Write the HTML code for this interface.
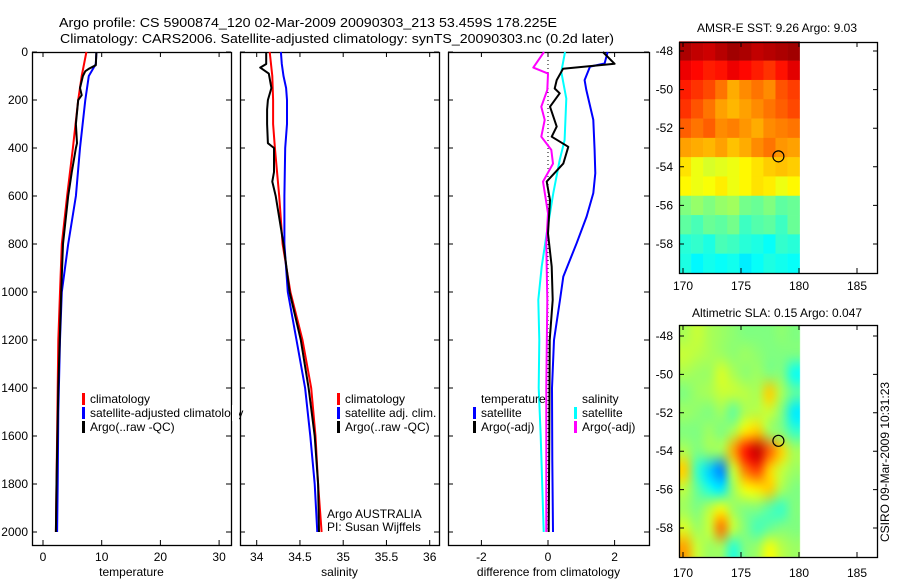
<!DOCTYPE html>
<html><head><meta charset="utf-8"><style>
html,body{margin:0;padding:0;background:#fff;}
#wrap{position:relative;width:900px;height:580px;overflow:hidden;}
#sla{position:absolute;left:0;top:0;}
svg{position:absolute;left:0;top:0;}
text{font-family:"Liberation Sans",sans-serif;font-size:12px;fill:#000;}
</style></head><body>
<div id="wrap">
<canvas id="sla" width="900" height="580"></canvas>
<svg id="fig" width="900" height="580" xmlns="http://www.w3.org/2000/svg">
<text x="308" y="27" text-anchor="middle" textLength="498" lengthAdjust="spacingAndGlyphs" style="font-size:13px">Argo profile: CS 5900874_120 02-Mar-2009 20090303_213 53.459S 178.225E</text>
<text x="337" y="43" text-anchor="middle" textLength="554" lengthAdjust="spacingAndGlyphs" style="font-size:13px">Climatology: CARS2006. Satellite-adjusted climatology: synTS_20090303.nc (0.2d later)</text>
<text x="777" y="32" text-anchor="middle">AMSR-E SST: 9.26  Argo: 9.03</text>
<text x="777" y="317" text-anchor="middle">Altimetric SLA: 0.15  Argo: 0.047</text>
<text transform="translate(889,462) rotate(-90)" text-anchor="middle">CSIRO 09-Mar-2009 10:31:23</text>
<g id="g"></g>
</svg></div>
<script>
// ---------- data ----------
const depthTicks=[0,200,400,600,800,1000,1200,1400,1600,1800,2000];
const tempTicks=[0,10,20,30];
const salTicks=[34,34.5,35,35.5,36];
const salTickLabels=["34","34.5","35","35.5","36"];
const diffTicks=[-2,0,2];
const lonTicks=[170,175,180,185];
const latTicks=[-48,-50,-52,-54,-56,-58];

const tClimD=[0,100,200,400,600,800,1000,1200,1400,1600,1800,2000];
const tClimV=[7.4,6.6,6.0,5.1,4.1,3.2,2.9,2.6,2.5,2.4,2.3,2.2];
const tSatD=[0,50,100,200,400,600,800,1000,1200,1500,1800,2000];
const tSatV=[9.1,9.0,7.8,7.2,6.3,5.6,4.3,3.2,2.9,2.6,2.5,2.4];
const tArgoD=[0,55,70,80,100,150,180,200,300,380,400,500,600,800,1000,1400,1800,2000];
const tArgoV=[9.1,9.0,7.8,7.2,6.8,6.3,6.6,6.0,5.6,5.8,5.6,4.9,4.3,3.4,3.1,2.6,2.3,2.2];

const sClimD=[0,100,200,300,400,600,800,1000,1200,1400,1600,1800,2000];
const sClimV=[34.15,34.18,34.19,34.19,34.21,34.26,34.30,34.39,34.53,34.63,34.68,34.71,34.75];
const sSatD=[0,50,100,150,200,300,400,600,800,1000,1200,1400,1600,1800,2000];
const sSatV=[34.28,34.29,34.31,34.34,34.35,34.35,34.33,34.32,34.32,34.36,34.46,34.56,34.62,34.67,34.70];
const sArgoD=[0,50,65,90,150,200,240,300,380,400,500,540,600,800,1000,1200,1400,1600,1800,2000];
const sArgoV=[34.11,34.11,34.04,34.14,34.17,34.13,34.12,34.12,34.13,34.20,34.20,34.18,34.22,34.31,34.38,34.51,34.60,34.67,34.71,34.72];

const dTSatD=[0,48,61,117,158,283,408,505,588,686,797,936,1033,1200,1400,1700,2000];
const dTSatV=[1.79,1.70,1.26,1.10,1.15,1.36,1.40,1.42,1.36,1.16,0.86,0.46,0.36,0.18,0.12,0.13,0.15];
const dTArgoD=[0,49,70,117,152,172,228,311,353,395,465,540,617,756,894,1033,1200,1600,2000];
const dTArgoV=[1.65,2.0,0.45,0.26,0.20,0.35,0.06,0.26,0.11,0.61,0.46,-0.04,0.06,0.0,0.11,0.14,0.05,0.04,0.02];
const dSSatD=[0,83,194,367,450,588,756,894,1033,1200,1400,1600,2000];
const dSSatV=[0.51,0.40,0.55,0.50,0.35,0.16,-0.04,-0.19,-0.29,-0.26,-0.28,-0.22,-0.13];
const dSArgoD=[0,65,90,158,228,283,353,408,465,540,672,800,1033,1400,2000];
const dSArgoV=[-0.12,-0.44,0.0,-0.02,-0.20,-0.10,-0.20,0.10,0.15,-0.15,0.0,-0.05,-0.02,-0.05,-0.05];

const sstGrid=[
[11.8,11.6,11.5,11.7,11.9,11.8,11.6,11.7,11.8,11.9],
[11.2,11.0,10.8,10.9,11.2,11.0,10.8,10.6,10.9,11.3],
[10.8,10.6,10.4,10.0,9.5,9.8,10.0,9.8,10.3,10.5],
[10.6,10.3,10.0,9.6,9.4,9.6,9.8,10.0,10.2,10.4],
[10.2,10.0,10.2,9.8,9.9,9.7,9.5,9.8,9.9,10.0],
[9.6,9.5,9.4,9.6,9.3,9.5,9.8,10.0,9.7,9.6],
[9.0,8.6,8.4,8.5,8.6,8.8,9.0,9.2,9.3,9.2],
[8.8,8.6,8.7,8.9,8.6,8.8,9.0,8.9,8.6,8.8],
[7.6,7.8,7.6,7.8,7.9,7.5,7.4,7.6,7.3,7.4],
[7.3,7.1,7.4,7.3,7.5,7.0,7.2,7.3,7.0,7.4],
[6.8,6.9,6.7,7.1,7.0,6.8,6.7,6.5,6.9,6.8],
[6.7,6.4,6.6,6.5,6.6,6.3,6.5,6.7,6.6,6.5]];
const slaGrid=[
[.03,.05,.03,.02,.01,.0,.0,.0,.01,.0],
[.05,.04,.03,.02,.01,.02,.01,.0,.0,.0],
[.03,.02,.02,.06,.03,.01,.02,.0,.0,-.08],
[.0,.02,.03,.05,.05,.04,.03,.12,.03,-.02],
[.02,.01,.0,.02,-.02,.03,.04,.05,.0,-.1],
[.0,.0,.02,.0,.03,.10,.12,.02,.0,-.05],
[.03,.0,.02,.03,.15,.25,.30,.20,.12,.03],
[.12,-.05,-.12,-.17,.05,.18,.22,.12,.05,.02],
[.04,-.02,-.07,-.10,.02,.08,.10,.12,.03,.0],
[.02,.0,.04,.08,.02,.0,.0,-.03,-.05,.0],
[.06,.02,.05,.18,.05,.0,-.04,-.02,.0,.0],
[.15,.05,.02,.02,-.06,.0,.02,.08,.04,.02]];
const argoLon=178.225, argoLat=-53.459;

// ---------- helpers ----------
const NS="http://www.w3.org/2000/svg";
const G=document.getElementById('g');
function mk(tag,at,parent){const e=document.createElementNS(NS,tag);for(const k in at)e.setAttribute(k,at[k]);(parent||G).appendChild(e);return e;}
const yD=d=>52+d*0.24;
function jet(f){f=Math.max(0,Math.min(1,f));
 const r=Math.max(0,Math.min(1,1.5-Math.abs(4*f-3))),g=Math.max(0,Math.min(1,1.5-Math.abs(4*f-2))),b=Math.max(0,Math.min(1,1.5-Math.abs(4*f-1)));
 return [Math.round(r*255),Math.round(g*255),Math.round(b*255)];}

function panel(name,x0,x1,xScale,xt,xtl,xlabel){
 const top=52,bot=545;
 const fr=mk('rect',{x:x0+0.5,y:top+0.5,width:x1-x0,height:bot-top,fill:'none',stroke:'#000','stroke-width':1.3});
 
 
 xt.forEach((v,i)=>{const x=xScale(v);
  const t=mk('path',{d:`M${x},${bot}v-5M${x},${top}v5`,stroke:'#000','stroke-width':1});
  
  
  const l=mk('text',{x:x,y:561,'text-anchor':'middle'});l.textContent=xtl[i];
  
  });
 depthTicks.forEach(d=>{const y=yD(d);
  const t=mk('path',{d:`M${x0},${y}h5M${x1},${y}h-5`,stroke:'#000','stroke-width':1});
  
  });
 const xl=mk('text',{x:(x0+x1)/2,y:576,'text-anchor':'middle'});xl.textContent=xlabel;
 
 
}
function line(name,D,V,xScale,color,w){
 const pts=D.map((d,i)=>xScale(V[i]).toFixed(1)+','+yD(d).toFixed(1)).join(' ');
 const p=mk('polyline',{points:pts,fill:'none',stroke:color,'stroke-width':w||2,'stroke-linejoin':'round'});
 
 
}
function legend(name,x,y,color,label){
 const m=mk('rect',{x:x,y:y-10,width:3,height:12,fill:color});
 
 
 const t=mk('text',{x:x+8,y:y});t.textContent=label;
 
 
}
function txt(name,x,y,s,anchor){const t=mk('text',{x:x,y:y,'text-anchor':anchor||'start'});t.textContent=s;
 
 }

// depth labels
depthTicks.forEach(d=>{const t=mk('text',{x:28,y:yD(d)+4,'text-anchor':'end'});t.textContent=String(d);
 
 });

// panel 1 temperature
const xT=v=>43+v*5.87;
panel('temperature-panel',32,231,xT,tempTicks,tempTicks.map(String),'temperature');
line('temp-climatology-line',tClimD,tClimV,xT,'#f00');
line('temp-satellite-line',tSatD,tSatV,xT,'#00f');
line('temp-argo-line',tArgoD,tArgoV,xT,'#000');
legend('legend-climatology',82,403,'#f00','climatology');
legend('legend-satellite-adjusted',82,417,'#00f','satellite-adjusted climatology');
legend('legend-argo',82,431,'#000','Argo(..raw -QC)');

// panel 2 salinity
const xS=v=>256.7+(v-34)*86.5;
panel('salinity-panel',240,439,xS,salTicks,salTickLabels,'salinity');
line('sal-climatology-line',sClimD,sClimV,xS,'#f00');
line('sal-satellite-line',sSatD,sSatV,xS,'#00f');
line('sal-argo-line',sArgoD,sArgoV,xS,'#000');
legend('legend-sal-climatology',337,403,'#f00','climatology');
legend('legend-sal-satellite',337,417,'#00f','satellite adj. clim.');
legend('legend-sal-argo',337,431,'#000','Argo(..raw -QC)');
txt('argo-australia-label',327,518,'Argo AUSTRALIA');
txt('pi-label',327,531,'PI: Susan Wijffels');
const mask=mk('rect',{x:232,y:405,width:7,height:16,fill:'#fff'});



// panel 3 difference
const xDf=v=>548+v*33.3;
panel('difference-panel',448,649,xDf,diffTicks,diffTicks.map(String),'difference from climatology');
const z=mk('line',{x1:xDf(0),x2:xDf(0),y1:yD(0),y2:yD(2000),stroke:'#000','stroke-width':1,'stroke-dasharray':'1,3'});


line('diff-salinity-satellite-line',dSSatD,dSSatV,xDf,'#0ff');
line('diff-salinity-argo-line',dSArgoD,dSArgoV,xDf,'#f0f');
line('diff-temp-satellite-line',dTSatD,dTSatV,xDf,'#00f');
line('diff-temp-argo-line',dTArgoD,dTArgoV,xDf,'#000');
txt('legend-temperature-header',481,403,'temperature');
legend('legend-diff-temp-satellite',473,417,'#00f','satellite');
legend('legend-diff-temp-argo',473,431,'#000','Argo(-adj)');
txt('legend-salinity-header',582,403,'salinity');
legend('legend-diff-sal-satellite',574,417,'#0ff','satellite');
legend('legend-diff-sal-argo',574,431,'#f0f','Argo(-adj)');

// ---------- maps ----------
const lonX=lon=>683+(lon-170)*11.6;
const lonL=169.66, lonR=180.05;
function mapAxes(name,top,bot,latY,lonLabelY){
 const fr=mk('rect',{x:679.5,y:top+0.5,width:198,height:bot-top,fill:'none',stroke:'#000','stroke-width':1.3});
 
 
 lonTicks.forEach(l=>{const x=lonX(l);
  const t=mk('path',{d:`M${x},${bot}v-5M${x},${top}v5`,stroke:'#000'});
  
  
  const tl=mk('text',{x:x,y:lonLabelY,'text-anchor':'middle'});tl.textContent=String(l);
  
  });
 latTicks.forEach(l=>{const y=latY(l);
  const t=mk('path',{d:`M679,${y}h5M878,${y}h-5`,stroke:'#000'});
  
  
  const tl=mk('text',{x:673,y:y+4,'text-anchor':'end'});tl.textContent=String(l);
  
  });
 const c=mk('circle',{cx:lonX(argoLon),cy:latY(argoLat),r:5.5,fill:'none',stroke:'#000','stroke-width':1.2});
 
 
}
// SST map
const latY1=lat=>51+(-48-lat)*19.3;
const sstG=mk('g',{});


const nR=sstGrid.length,nC=sstGrid[0].length,cw=(lonR-lonL)/nC;
const sstMin=3.0, sstMax=12.2;
sstGrid.forEach((row,i)=>row.forEach((v,j)=>{
 const x=lonX(lonL+j*cw),x2=lonX(lonL+(j+1)*cw),y=latY1(-47.5-i),y2=latY1(-48.5-i);
 const c=jet((v-sstMin)/(sstMax-sstMin));
 const r=mk('rect',{x:x.toFixed(2),y:y.toFixed(2),width:(x2-x+0.3).toFixed(2),height:(y2-y+0.3).toFixed(2),fill:`rgb(${c})`},sstG);
 
 
}));
mapAxes('sst-map',42,273,latY1,290);

// SLA map (canvas, smoothed)
const latY2=lat=>336+(-48-lat)*19.2;
mapAxes('sla-map',325,557,latY2,577);
(function(){
 const cv=document.getElementById('sla'),ctx=cv.getContext('2d');
 const sm=document.createElement('canvas');sm.width=nC;sm.height=slaGrid.length;
 const sc=sm.getContext('2d'),img=sc.createImageData(nC,slaGrid.length);
 slaGrid.forEach((row,i)=>row.forEach((v,j)=>{const c=jet((v+0.35)/0.7);const k=(i*nC+j)*4;
  img.data[k]=c[0];img.data[k+1]=c[1];img.data[k+2]=c[2];img.data[k+3]=255;}));
 sc.putImageData(img,0,0);
 ctx.imageSmoothingEnabled=true;ctx.imageSmoothingQuality='high';
 const x=lonX(lonL),x2=lonX(lonR),y=latY2(-47.43),y2=latY2(-59.5);
 ctx.drawImage(sm,x,y,x2-x,y2-y);
})();
</script>
</body></html>
